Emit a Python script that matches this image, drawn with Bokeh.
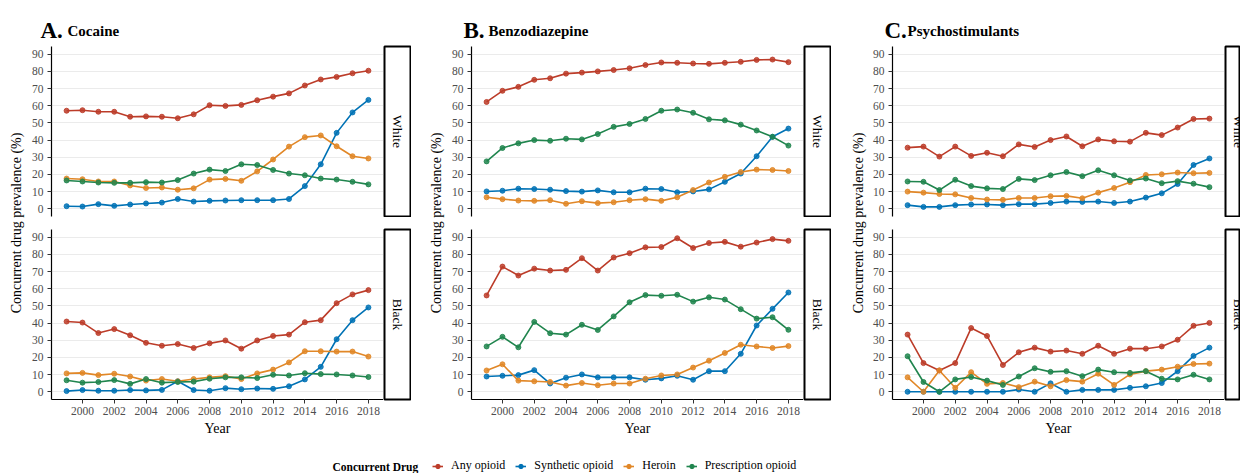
import math
from bokeh.plotting import figure
from bokeh.models import ColumnDataSource, FixedTicker, Range1d, Legend, LegendItem, Label
from bokeh.layouts import row, column
from bokeh.core.properties import value
from bokeh.embed import file_html
from bokeh.resources import INLINE

# ---------------- data ----------------
years = list(range(1999, 2019))
series_names = ["Any opioid", "Synthetic opioid", "Heroin", "Prescription opioid"]
series_colors = ["#BC3C29", "#0072B5", "#E18727", "#20854E"]
panel_letters = ["A.", "B.", "C."]
panel_titles = ["Cocaine", "Benzodiazepine", "Psychostimulants"]
race_labels = ["White", "Black"]
y_ticks = [0, 10, 20, 30, 40, 50, 60, 70, 80, 90]
x_ticks = [2000, 2002, 2004, 2006, 2008, 2010, 2012, 2014, 2016, 2018]
legend_title = "Concurrent Drug"
x_label = "Year"
y_label = "Concurrent drug prevalence (%)"

cocaine_white_any = [57.1, 57.4, 56.5, 56.5, 53.6, 53.8, 53.6, 52.7, 55.0, 60.3, 59.9, 60.5, 63.2, 65.3, 67.2, 71.8, 75.3, 76.8, 78.9, 80.4]
cocaine_white_synth = [1.5, 1.3, 2.7, 1.7, 2.5, 3.1, 3.6, 5.7, 4.2, 4.6, 4.8, 5.0, 5.0, 5.0, 5.7, 13.2, 25.9, 44.2, 56.1, 63.4]
cocaine_white_heroin = [17.6, 17.2, 15.9, 15.9, 13.6, 12.1, 12.4, 11.1, 11.9, 17.0, 17.4, 16.3, 21.8, 28.7, 36.2, 41.7, 42.7, 36.4, 30.6, 29.3]
cocaine_white_rx = [16.5, 15.9, 15.3, 15.1, 15.1, 15.5, 15.3, 16.7, 20.5, 22.8, 22.0, 25.9, 25.5, 22.6, 20.5, 19.5, 17.6, 17.0, 15.7, 14.2]

cocaine_black_any = [40.9, 40.3, 34.2, 36.5, 32.9, 28.5, 26.8, 27.8, 25.5, 28.2, 29.9, 25.1, 29.9, 32.5, 33.3, 40.5, 41.7, 51.6, 56.7, 59.2]
cocaine_black_synth = [0.4, 1.0, 0.6, 0.6, 1.0, 0.8, 1.1, 6.1, 1.0, 0.6, 2.1, 1.5, 1.9, 1.7, 3.2, 7.2, 14.5, 30.6, 41.7, 49.1]
cocaine_black_heroin = [10.7, 11.0, 9.7, 10.5, 8.9, 6.5, 7.4, 6.1, 7.4, 8.4, 9.1, 7.4, 10.7, 12.9, 17.1, 23.6, 23.6, 23.4, 23.4, 20.5]
cocaine_black_rx = [6.7, 5.3, 5.7, 6.8, 4.6, 7.4, 5.3, 5.7, 5.9, 7.6, 8.4, 8.4, 8.0, 9.9, 9.5, 10.8, 10.3, 10.1, 9.5, 8.6]

benzo_white_any = [62.2, 68.7, 71.0, 75.1, 76.0, 78.7, 79.3, 80.0, 80.8, 81.8, 83.7, 85.2, 85.0, 84.6, 84.4, 85.0, 85.6, 86.7, 86.9, 85.4]
benzo_white_synth = [10.1, 10.5, 11.7, 11.5, 11.1, 10.3, 10.0, 10.7, 9.6, 9.6, 11.7, 11.5, 9.6, 10.1, 11.3, 15.7, 20.5, 30.6, 41.9, 46.7]
benzo_white_heroin = [6.7, 5.6, 4.8, 4.6, 5.0, 2.9, 4.4, 3.3, 3.8, 5.0, 5.6, 4.6, 6.7, 10.9, 15.3, 18.6, 21.4, 22.8, 22.6, 22.0]
benzo_white_rx = [27.6, 35.4, 38.1, 40.0, 39.6, 40.8, 40.4, 43.5, 47.7, 49.4, 52.3, 57.1, 57.8, 55.9, 52.1, 51.5, 49.0, 45.6, 41.9, 36.8]

benzo_black_any = [56.1, 72.9, 67.7, 71.7, 70.6, 71.0, 77.8, 70.6, 78.2, 80.7, 84.1, 84.3, 89.4, 83.7, 86.6, 87.3, 84.5, 86.9, 88.9, 87.9]
benzo_black_synth = [8.9, 9.3, 9.7, 12.6, 4.8, 8.2, 10.1, 8.4, 8.4, 8.4, 7.0, 7.8, 9.3, 7.0, 12.0, 12.0, 22.1, 38.6, 48.3, 57.8]
benzo_black_heroin = [12.4, 16.0, 6.5, 6.1, 5.7, 3.6, 5.1, 3.8, 4.8, 4.8, 7.6, 9.5, 10.1, 14.1, 18.1, 22.6, 27.4, 26.4, 25.5, 26.6]
benzo_black_rx = [26.4, 32.0, 25.9, 40.7, 34.1, 33.3, 39.0, 36.0, 43.9, 52.1, 56.3, 55.9, 56.5, 52.5, 55.0, 53.7, 48.1, 42.6, 43.4, 36.1]

psycho_white_any = [35.6, 36.2, 30.4, 36.2, 30.8, 32.6, 30.6, 37.5, 36.0, 40.0, 42.1, 36.4, 40.4, 39.3, 39.1, 44.2, 42.9, 47.3, 52.3, 52.5]
psycho_white_synth = [2.1, 1.1, 1.1, 2.1, 2.5, 2.5, 2.1, 2.7, 2.7, 3.4, 4.2, 4.0, 4.2, 3.4, 4.2, 6.5, 9.0, 14.4, 25.5, 29.3]
psycho_white_heroin = [10.0, 9.4, 8.6, 8.4, 6.3, 5.4, 5.2, 6.3, 6.3, 7.3, 7.5, 6.1, 9.4, 12.1, 15.5, 19.7, 20.1, 21.1, 20.7, 20.9]
psycho_white_rx = [15.9, 15.7, 10.9, 16.9, 13.2, 11.9, 11.5, 17.4, 16.7, 19.5, 21.4, 19.0, 22.4, 19.5, 16.5, 17.6, 14.9, 16.1, 14.6, 12.6]

psycho_black_any = [33.3, 16.7, 12.4, 16.7, 37.1, 32.5, 15.6, 23.0, 25.7, 23.4, 24.0, 22.1, 26.8, 22.1, 25.1, 25.1, 26.4, 30.3, 38.4, 40.1]
psycho_black_synth = [0.0, 0.0, 0.0, 0.0, 0.0, 0.0, 0.0, 1.3, 0.0, 4.9, 0.0, 1.1, 1.1, 1.1, 2.3, 3.2, 5.1, 12.0, 20.9, 25.7]
psycho_black_heroin = [8.4, 0.0, 12.4, 2.3, 11.4, 4.6, 5.1, 2.7, 5.9, 3.2, 6.8, 5.9, 10.5, 4.0, 10.1, 12.0, 12.9, 14.6, 16.2, 16.4]
psycho_black_rx = [20.7, 5.7, 0.0, 7.2, 8.6, 6.5, 4.0, 8.9, 13.7, 11.6, 12.0, 9.1, 12.9, 11.4, 11.0, 12.0, 7.6, 7.2, 9.9, 7.2]

panels = [
    [[cocaine_white_any, cocaine_white_synth, cocaine_white_heroin, cocaine_white_rx],
     [cocaine_black_any, cocaine_black_synth, cocaine_black_heroin, cocaine_black_rx]],
    [[benzo_white_any, benzo_white_synth, benzo_white_heroin, benzo_white_rx],
     [benzo_black_any, benzo_black_synth, benzo_black_heroin, benzo_black_rx]],
    [[psycho_white_any, psycho_white_synth, psycho_white_heroin, psycho_white_rx],
     [psycho_black_any, psycho_black_synth, psycho_black_heroin, psycho_black_rx]],
]

# ---------------- style ----------------
FONT = "Liberation Serif"
TICK_COLOR = "#4D4D4D"
GRID_COLOR = "#EBEBEB"
FRAME_W = 332
FRAME_H = 172
LEFT_B = 25
GAP = 11
BOT_B = 40
TOTAL_W = 1240
MARKER = 5


def blank(width, height, xr, yr, **kw):
    p = figure(width=width, height=height, x_range=xr, y_range=yr,
               x_axis_location=None, y_axis_location=None,
               toolbar_location=None, output_backend="svg", title=None,
               min_border_left=kw.get("l", 0), min_border_right=kw.get("r", 0),
               min_border_top=kw.get("t", 0), min_border_bottom=kw.get("b", 0))
    p.grid.visible = False
    p.outline_line_color = None
    p.background_fill_color = "white"
    p.border_fill_color = "white"
    return p


def style_axis(ax):
    ax.axis_line_color = "black"
    ax.axis_line_width = 1.2
    ax.major_tick_line_color = "#333333"
    ax.major_tick_out = 4
    ax.major_tick_in = 0
    ax.minor_tick_out = 0
    ax.minor_tick_in = 0
    ax.major_label_text_font = FONT
    ax.major_label_text_font_size = "11.5px"
    ax.major_label_text_color = TICK_COLOR


def facet(series, bottom):
    h = FRAME_H + (GAP + BOT_B if bottom else 0)
    p = figure(width=LEFT_B + FRAME_W, height=h,
               x_range=Range1d(1998.05, 2018.95), y_range=Range1d(-4.5, 94.5),
               x_axis_location="below" if bottom else None,
               toolbar_location=None, output_backend="svg", title=None,
               min_border_left=LEFT_B, min_border_right=0,
               min_border_top=GAP if bottom else 0,
               min_border_bottom=BOT_B if bottom else 0)
    p.outline_line_color = None
    p.background_fill_color = "white"
    p.border_fill_color = "white"
    p.xgrid.visible = False
    p.ygrid.ticker = FixedTicker(ticks=y_ticks)
    p.ygrid.grid_line_color = GRID_COLOR
    p.ygrid.grid_line_width = 1
    ax = p.yaxis[0]
    ax.ticker = FixedTicker(ticks=y_ticks)
    style_axis(ax)
    ax.major_label_standoff = 4
    if bottom:
        xa = p.xaxis[0]
        xa.ticker = FixedTicker(ticks=x_ticks)
        style_axis(xa)
        xa.major_label_standoff = 3
        xa.axis_label = x_label
        xa.axis_label_standoff = 3
        xa.axis_label_text_font = FONT
        xa.axis_label_text_font_size = "14px"
        xa.axis_label_text_font_style = "normal"
        xa.axis_label_text_color = "black"
    sources = [ColumnDataSource(dict(x=years, y=vals)) for vals in series]
    for src, c in zip(sources, series_colors):
        p.line("x", "y", source=src, line_color=c, line_width=1.6)
    for src, c in zip(sources, series_colors):
        p.scatter("x", "y", source=src, size=MARKER, fill_color=c, line_color=c,
                  fill_alpha=0.85, line_alpha=0.85)
    return p


def strip(label, width, bottom, frac=1.0):
    h = FRAME_H + (GAP + BOT_B if bottom else 0)
    p = blank(width, h, Range1d(0, frac), Range1d(0, 1),
              l=1, r=1 if frac >= 1 else 0,
              t=(GAP + 1) if bottom else 1, b=(BOT_B + 1) if bottom else 1)
    p.outline_line_color = "black"
    p.outline_line_width = 2
    p.text(x=[0.5], y=[0.5], text=[label], angle=-math.pi / 2,
           text_align="center", text_baseline="middle",
           text_font=value(FONT), text_font_size="13.5px", text_color="black")
    return p


def ylab_fig(width, cx):
    hh = FRAME_H * 2 + GAP + BOT_B
    p = blank(width, hh, Range1d(0, width), Range1d(0, hh))
    p.text(x=[cx], y=[hh - (FRAME_H * 2 + GAP) / 2.0], text=[y_label], angle=math.pi / 2,
           text_align="center", text_baseline="middle",
           text_font=value(FONT), text_font_size="14px", text_color="black")
    return p


# ---------------- title band ----------------
title_h = 45
tfig = blank(TOTAL_W, title_h, Range1d(0, TOTAL_W), Range1d(0, title_h))
letter_x = [40, 463, 884]
name_x = [67, 488, 907]
tfig.text(x=letter_x, y=[title_h - 30] * 3, text=panel_letters,
          text_align="left", text_baseline="alphabetic",
          text_font=value(FONT), text_font_size="23px", text_font_style="bold",
          text_color="black")
tfig.text(x=name_x, y=[title_h - 30] * 3, text=panel_titles,
          text_align="left", text_baseline="alphabetic",
          text_font=value(FONT), text_font_size="15px", text_font_style="bold",
          text_color="black")

# ---------------- panels ----------------
ylab_w = [26, 35, 36]
ylab_cx = [16, 25, 26.5]
strip_w = [28, 28, 16]
strip_frac = [1.0, 1.0, 15.0 / 26.0]

cols = []
for i in range(3):
    top = facet(panels[i][0], False)
    bot = facet(panels[i][1], True)
    st = strip(race_labels[0], strip_w[i], False, strip_frac[i])
    sb = strip(race_labels[1], strip_w[i], True, strip_frac[i])
    yl = ylab_fig(ylab_w[i], ylab_cx[i])
    cols.append(row(yl, column(row(top, st), row(bot, sb))))

# ---------------- legend band ----------------
leg_h = 473 - title_h - (FRAME_H * 2 + GAP + BOT_B)
lfig = blank(TOTAL_W, leg_h, Range1d(0, TOTAL_W), Range1d(0, leg_h))
lfig.add_layout(Label(x=332, y=7, text=legend_title, text_baseline="middle",
                      text_font=FONT, text_font_size="11.5px", text_font_style="bold",
                      text_color="black"))
items = []
for name, c in zip(series_names, series_colors):
    proxy = ColumnDataSource(dict(x=[years[0]], y=[float("nan")]))
    lr = lfig.line("x", "y", source=proxy, line_color=c, line_width=1.6)
    sr = lfig.scatter("x", "y", source=proxy, size=MARKER, fill_color=c, line_color=c)
    items.append(LegendItem(label=name, renderers=[lr, sr]))
leg = Legend(items=items, orientation="horizontal", location=(432, 0),
             glyph_width=11, glyph_height=12, label_height=12, label_standoff=8,
             spacing=10, padding=0, margin=0,
             background_fill_alpha=0, border_line_alpha=0,
             label_text_font=FONT, label_text_font_size="12px", label_text_color="black")
lfig.add_layout(leg)

layout = column(tfig, row(*cols), lfig)

open("out.html", "w").write(file_html(layout, INLINE))
